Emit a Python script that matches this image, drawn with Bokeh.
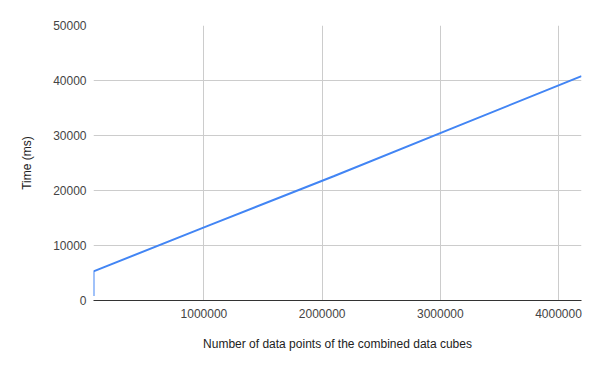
from bokeh.plotting import figure
from bokeh.models import FixedTicker, NumeralTickFormatter, Range1d
from bokeh.embed import file_html
from bokeh.resources import INLINE

# data
data_points = [65536, 65536, 1048576, 2097152, 3145728, 4194304]
time_ms = [800, 5300, 13700, 22600, 31700, 40800]
x_ticks = [1000000, 2000000, 3000000, 4000000]
y_ticks = [0, 10000, 20000, 30000, 40000, 50000]

FONT = "Liberation Sans"

p = figure(width=600, height=371, output_backend="svg", toolbar_location=None,
           x_range=Range1d(65536, 4194304), y_range=Range1d(0, 50000),
           min_border_left=93, min_border_right=19, min_border_top=25, min_border_bottom=71)
p.outline_line_color = None
p.background_fill_color = "white"
p.border_fill_color = "white"

p.line(data_points, time_ms, line_color="#4285F4", line_width=2)

for ax in (p.xaxis[0], p.yaxis[0]):
    ax.major_tick_line_color = None
    ax.minor_tick_line_color = None
    ax.major_tick_out = 0
    ax.major_tick_in = 0
    ax.minor_tick_out = 0
    ax.major_label_text_font = FONT
    ax.major_label_text_font_size = "12px"
    ax.major_label_text_color = "#444444"
    ax.axis_label_text_font = FONT
    ax.axis_label_text_font_size = "12px"
    ax.axis_label_text_font_style = "normal"
    ax.axis_label_text_color = "#222222"
    ax.formatter = NumeralTickFormatter(format="0")

p.xaxis.ticker = FixedTicker(ticks=x_ticks)
p.yaxis.ticker = FixedTicker(ticks=y_ticks)
p.xaxis.axis_label = "Number of data points of the combined data cubes"
p.yaxis.axis_label = "Time (ms)"
p.xaxis.axis_line_color = "#333333"
p.xaxis.axis_line_width = 1
p.yaxis.axis_line_color = None
p.xaxis.major_label_standoff = 8
p.xaxis.axis_label_standoff = 16
p.yaxis.major_label_standoff = 7
p.yaxis.axis_label_standoff = 16

p.xgrid.grid_line_color = "#cccccc"
p.ygrid.grid_line_color = "#cccccc"

open("out.html", "w").write(file_html(p, INLINE))
